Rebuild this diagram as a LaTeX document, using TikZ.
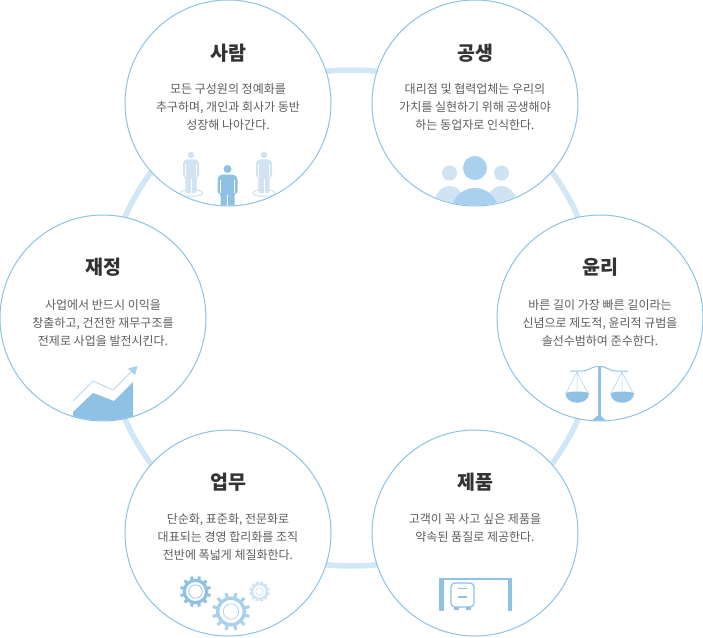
\documentclass[tikz,border=0pt]{standalone}
\usepackage{fontspec}
\setmainfont{Noto Sans CJK KR}
\usetikzlibrary{calc}
\definecolor{edgeblue}{HTML}{8CC3E6}
\definecolor{ringblue}{HTML}{D2E7F5}
\definecolor{iconblue}{HTML}{8FC1E4}
\definecolor{iconmid}{HTML}{A9D0EC}
\definecolor{iconlight}{HTML}{CFE3F3}
\definecolor{titlegray}{HTML}{333333}
\definecolor{bodygray}{HTML}{5E5E5E}
\tikzset{
  disc/.style={circle,draw=edgeblue,fill=white,line width=1pt,minimum size=206pt,inner sep=0pt},
  titletext/.style={text=titlegray,font=\fontsize{19.5}{22}\selectfont\bfseries,inner sep=0pt},
  bodytext/.style={text=bodygray,font=\fontsize{12}{18.3}\selectfont,align=center,inner sep=0pt},
  ringline/.style={circle,draw=ringblue,line width=5.5pt,minimum size=496pt,inner sep=0pt},
}
\newcommand{\personicon}[5]{% x, head y, half width, body length, colour
  \fill[#5] (#1,#2) circle (#3*0.4pt);
  \fill[#5,rounded corners=2pt] (#1-#3,#2+#4*0.58) -- (#1-#3,#2+#3*0.85) -- (#1-#3*0.7,#2+#3*0.55) -- (#1+#3*0.7,#2+#3*0.55) -- (#1+#3,#2+#3*0.85) -- (#1+#3,#2+#4*0.58) -- (#1+#3*0.7,#2+#4*0.58) -- (#1+#3*0.7,#2+#4) -- (#1-#3*0.7,#2+#4) -- (#1-#3*0.7,#2+#4*0.58) -- cycle;
  \draw[white,line width=.5pt] (#1,#2+#4*0.62) -- (#1,#2+#4+1);
  \draw[white,line width=.5pt] (#1-#3*0.68,#2+#3*1.1) -- (#1-#3*0.68,#2+#4*0.58) (#1+#3*0.68,#2+#3*1.1) -- (#1+#3*0.68,#2+#4*0.58);
}
\newcommand{\gearicon}[7]{% x,y,outer,ring,width,inner,colour
  \foreach \a in {0,30,...,330}{\draw[#7,line width=3pt] ($(#1,#2)+(\a+15:#4pt)$) -- ($(#1,#2)+(\a+15:#3pt)$);}
  \draw[#7,line width=#5pt] (#1,#2) circle (#4pt);
  \draw[#7,line width=.7pt] (#1,#2) circle (#6pt);
}
\begin{document}
\begin{tikzpicture}[x=1pt,y=-1pt]
\useasboundingbox (0,0) rectangle (703,637);
\node[ringline] (ring) at (351.5,318) {};
\node[disc] (c1) at (228,103) {};
\node[disc] (c2) at (475,103) {};
\node[disc] (c3) at (600,318) {};
\node[disc] (c4) at (475,533) {};
\node[disc] (c5) at (228,533) {};
\node[disc] (c6) at (103,318) {};

\node[titletext] (t1) at (228,53) {사람};
\node[bodytext] (b1) at (228,107) {모든 구성원의 정예화를\\추구하며, 개인과 회사가 동반\\성장해 나아간다.};
\node[titletext] (t2) at (475,53) {공생};
\node[bodytext] (b2) at (475,107) {대리점 및 협력업체는 우리의\\가치를 실현하기 위해 공생해야\\하는 동업자로 인식한다.};
\node[titletext] (t3) at (600,267) {윤리};
\node[bodytext] (b3) at (600,323) {바른 길이 가장 빠른 길이라는\\신념으로 제도적, 윤리적 규범을\\솔선수범하여 준수한다.};
\node[titletext] (t4) at (475,482) {제품};
\node[bodytext] (b4) at (475,528) {고객이 꼭 사고 싶은 제품을\\약속된 품질로 제공한다.};
\node[titletext] (t5) at (228,482) {업무};
\node[bodytext] (b5) at (228,537) {단순화, 표준화, 전문화로\\대표되는 경영 합리화를 조직\\전반에 폭넓게 체질화한다.};
\node[titletext] (t6) at (103,267) {재정};
\node[bodytext] (b6) at (103,323) {사업에서 반드시 이익을\\창출하고, 건전한 재무구조를\\전제로 사업을 발전시킨다.};

% people
\begin{scope}
\clip (c1.center) circle (102.5pt);
\draw[iconlight,line width=1pt] (191.5,193) ellipse (11pt and 3.5pt);
\draw[iconlight,line width=1pt] (264,193) ellipse (11pt and 3.5pt);
\personicon{191}{155}{8}{38}{iconlight}
\personicon{264}{155}{8}{38}{iconlight}
\personicon{227.5}{169}{10}{42}{iconblue}
\end{scope}

% partners
\begin{scope}
\clip (c2.center) circle (102.5pt);
\fill[iconlight] (449.5,173) circle (7.5pt);
\fill[iconlight] (501.5,173) circle (7.5pt);
\fill[iconlight] (449.5,207) ellipse (16pt and 21pt);
\fill[iconlight] (501.5,207) ellipse (16pt and 21pt);
\fill[iconmid] (475,168) circle (12pt);
\fill[iconmid] (475,210) ellipse (23pt and 22pt);
\end{scope}

% scales
\draw[iconblue,line width=1pt] (570,371) -- (581,371) .. controls (590,371) and (590,366.5) .. (599,366.5) .. controls (608,366.5) and (608,371) .. (617,371) -- (628,371);
\draw[iconblue,line width=3pt] (599,367) -- (599,420);
\fill[iconblue] (592,420.5) -- (597,416) -- (601,416) -- (606,420.5) -- cycle;
\draw[iconmid,line width=.5pt] (577,372) -- (566,393) (577,372) -- (588,393) (577,372) -- (577,393);
\draw[iconmid,line width=.5pt] (622,372) -- (611,393) (622,372) -- (633,393) (622,372) -- (622,393);
\fill[iconblue] (565.5,393) .. controls (565.5,406) and (589,406) .. (589,393) .. controls (582,391) and (572,391) .. (565.5,393) -- cycle;
\fill[iconblue] (610.5,393) .. controls (610.5,406) and (634,406) .. (634,393) .. controls (627,391) and (617,391) .. (610.5,393) -- cycle;

% chart
\begin{scope}
\clip (c6.center) circle (102.5pt);
\fill[iconblue] (73,412) -- (93,393) -- (114,401) -- (133,382) -- (133,425) -- (73,425) -- cycle;
\end{scope}
\draw[iconmid,line width=.7pt] (73,401) -- (93,381) -- (113,390) -- (134,369);
\fill[iconmid] (137.5,366) -- (135,375) -- (128,368.5) -- cycle;

% gears
\gearicon{195.5}{591.5}{15.5}{11.2}{3.2}{6.7}{iconblue}
\gearicon{231}{611.5}{19}{13.3}{3.4}{7.7}{iconmid}
\gearicon{259.5}{591.5}{10}{7.2}{2}{3.8}{iconlight}

% product
\fill[iconblue] (439,578) rectangle (443.5,611);
\fill[iconblue] (507.5,578) rectangle (512,611);
\fill[iconblue] (439,578) rectangle (512,579.5);
\draw[iconblue,line width=1.2pt,rounded corners=4pt] (451,583) rectangle (474,607);
\draw[iconblue,line width=1.2pt] (458,588.5) -- (467,588.5) (458,597) -- (467,597);
\fill[iconblue] (454,607) rectangle (459,610);
\fill[iconblue] (466,607) rectangle (471,610);
\end{tikzpicture}
\end{document}
